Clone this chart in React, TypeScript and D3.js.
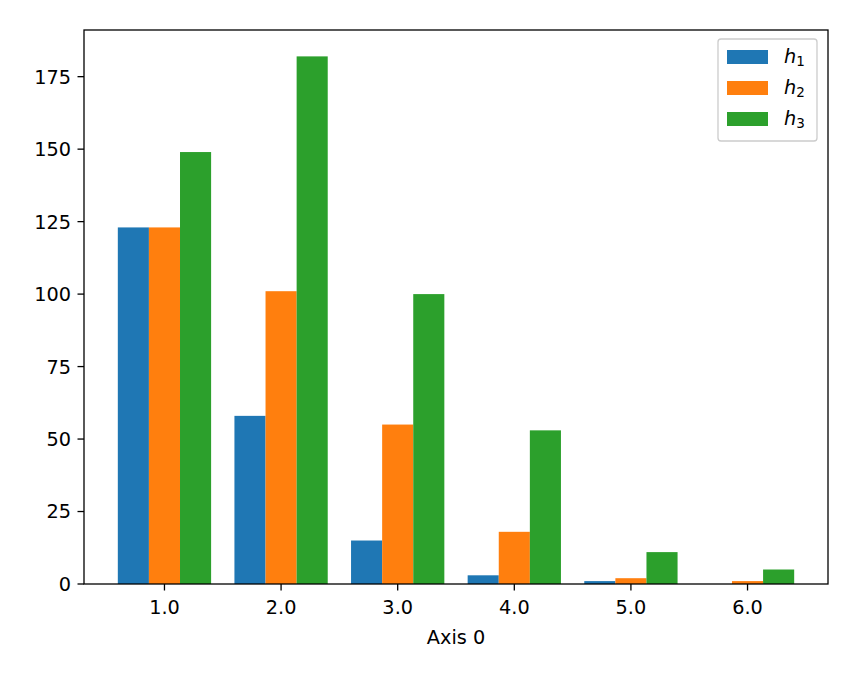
import * as d3 from "d3";

const categories = [1, 2, 3, 4, 5, 6];
const seriesNames = ["1", "2", "3"];
const h1 = [123, 58, 15, 3, 1, 0];
const h2 = [123, 101, 55, 18, 2, 1];
const h3 = [149, 182, 100, 53, 11, 5];
const yTicks = [0, 25, 50, 75, 100, 125, 150, 175];
const colors = ["#1f77b4", "#ff7f0e", "#2ca02c"];

const W = 857;
const H = 679;
const margin = { left: 84, right: 29, top: 30, bottom: 95 };
const font = "DejaVu Sans, sans-serif";
const fs = 19.3;

export default function App() {
  const series = [h1, h2, h3];
  const x = d3
    .scaleLinear()
    .domain([0.31, 6.69])
    .range([margin.left, W - margin.right]);
  const y = d3
    .scaleLinear()
    .domain([0, 191.1])
    .range([H - margin.bottom, margin.top]);
  const barW = 0.8 / 3;

  return (
    <svg width={W} height={H} style={{ display: "block", position: "absolute", left: 0, top: 0 }} fontFamily={font}>
      <rect width={W} height={H} fill="#fff" />
      {series.map((vals, s) =>
        vals.map((v, i) => {
          const x0 = categories[i] - 0.4 + s * barW;
          return (
            <rect
              key={`${s}-${i}`}
              x={x(x0)}
              width={x(x0 + barW) - x(x0)}
              y={y(v)}
              height={y(0) - y(v)}
              fill={colors[s]}
            />
          );
        })
      )}
      <rect
        x={margin.left}
        y={margin.top}
        width={W - margin.left - margin.right}
        height={H - margin.top - margin.bottom}
        fill="none"
        stroke="#000"
        strokeWidth={1.3}
      />
      {yTicks.map((t) => (
        <g key={t} transform={`translate(${margin.left},${y(t)})`}>
          <line x1={-6.5} x2={0} stroke="#000" strokeWidth={1.3} />
          <text x={-13} dy="0.36em" textAnchor="end" fontSize={fs}>
            {t}
          </text>
        </g>
      ))}
      {categories.map((c) => (
        <g key={c} transform={`translate(${x(c)},${H - margin.bottom})`}>
          <line y1={0} y2={6.5} stroke="#000" strokeWidth={1.3} />
          <text y={30} textAnchor="middle" fontSize={fs}>
            {c.toFixed(1)}
          </text>
        </g>
      ))}
      <text x={x(3.5)} y={644} textAnchor="middle" fontSize={fs}>
        Axis 0
      </text>
      <g>
        <rect x={718} y={39} width={99} height={102} rx={3} fill="#fff" fillOpacity={0.8} stroke="#ccc" strokeWidth={1.3} />
        {seriesNames.map((n, s) => (
          <g key={n} transform={`translate(727,${57 + s * 31})`}>
            <rect x={0} y={-7} width={41} height={14} fill={colors[s]} />
            <text x={57} y={6} fontSize={fs} fontStyle="italic">
              h
              <tspan fontStyle="normal" fontSize={13.5} dy={3}>
                {n}
              </tspan>
            </text>
          </g>
        ))}
      </g>
    </svg>
  );
}
